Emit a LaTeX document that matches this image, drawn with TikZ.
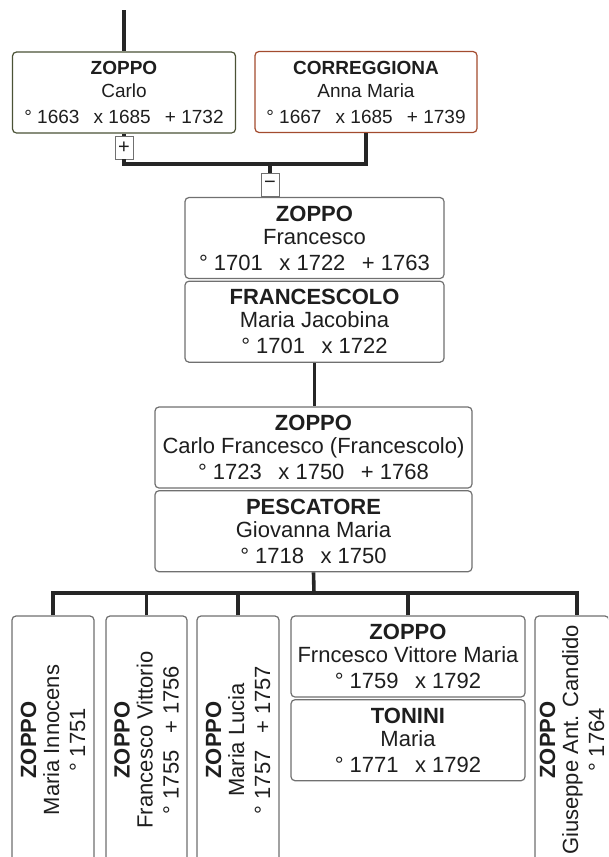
\documentclass[tikz,border=0pt]{standalone}
\usepackage{fontspec}
\setmainfont{Liberation Sans}
\usepackage{xcolor}
\usetikzlibrary{
    positioning,
    calc
}
\definecolor{linkgray}{HTML}{262626}
\definecolor{boxgray}{HTML}{707070}
\definecolor{husband}{HTML}{4A5236}
\definecolor{wife}{HTML}{A34B2E}
\definecolor{inkgray}{HTML}{1E1E1E}
\tikzset{
    person/.style={
        rectangle,
        rounded corners=4pt,
        draw=boxgray,
        line width=1.2pt,
        fill=white,
        align=center,
        inner sep=0pt,
        text=inkgray,
        font=\fontsize{22}{23}\selectfont
    },
    toppair/.style={
        person,
        minimum width=223pt,
        minimum height=81pt,
        font=\fontsize{19}{23}\selectfont
    },
    couple/.style={
        person,
        minimum height=81pt
    },
    child/.style={
        person,
        rotate=90,
        minimum width=248pt,
        minimum height=82pt
    },
    toggle/.style={
        rectangle,
        draw=boxgray,
        line width=0.9pt,
        fill=white,
        minimum width=18pt,
        minimum height=23pt,
        inner sep=0pt,
        text=inkgray,
        font=\fontsize{20}{20}\selectfont
    },
    link/.style={
        draw=linkgray,
        line width=3.6pt
    }
}

\begin{document}
\begin{tikzpicture}[x=1pt, y=-1pt]
\useasboundingbox (0,0) rectangle (608,857);
\clip (0,0) rectangle (608,857);

% parents
\node[toppair, draw=husband] (carlo) at (124,92.5) {\textbf{ZOPPO}\\Carlo\\[3pt]°~1663\hspace{0.75em}x 1685\hspace{0.75em}+~1732};
\node[toppair, draw=wife, minimum width=222pt] (anna) at (366,92) {\textbf{CORREGGIONA}\\Anna Maria\\[3pt]°~1667\hspace{0.75em}x 1685\hspace{0.75em}+~1739};
\node[toggle] (plus) at (124,147.5) {+};
\node[toggle] (minus) at (270,185) {−};

% second and third generation
\node[couple, minimum width=259pt] (francesco) at (314.5,238) {\textbf{ZOPPO}\\Francesco\\[3pt]°~1701\hspace{0.75em}x 1722\hspace{0.75em}+~1763};
\node[couple, minimum width=259pt, below=1.5pt of francesco] (jacobina) {\textbf{FRANCESCOLO}\\Maria Jacobina\\[3pt]°~1701\hspace{0.75em}x 1722};
\node[couple, minimum width=317pt] (carlofr) at (313.5,447.5) {\textbf{ZOPPO}\\Carlo Francesco (Francescolo)\\[3pt]°~1723\hspace{0.75em}x 1750\hspace{0.75em}+~1768};
\node[couple, minimum width=317pt, below=1.5pt of carlofr] (giovanna) {\textbf{PESCATORE}\\Giovanna Maria\\[3pt]°~1718\hspace{0.75em}x 1750};

% children
\node[child] (c1) at (53,740) {\textbf{ZOPPO}\\Maria Innocens\\[3pt]°~1751};
\node[child, minimum height=81pt] (c2) at (146.5,740) {\textbf{ZOPPO}\\Francesco Vittorio\\[3pt]°~1755\hspace{0.75em}+~1756};
\node[child] (c3) at (238,740) {\textbf{ZOPPO}\\Maria Lucia\\[3pt]°~1757\hspace{0.75em}+~1757};
\node[couple, minimum width=234pt] (c4) at (408,656.5) {\textbf{ZOPPO}\\Frncesco Vittore Maria\\[3pt]°~1759\hspace{0.75em}x 1792};
\node[couple, minimum width=234pt, below=1.5pt of c4] (tonini) {\textbf{TONINI}\\Maria\\[3pt]°~1771\hspace{0.75em}x 1792};
\node[child, minimum height=74pt] (c5) at (572,740) {\textbf{ZOPPO}\\Giuseppe Ant. Candido\\[3pt]°~1764};

\coordinate (root) at (124,10);
\coordinate (join) at (270,164);
\coordinate (kids) at (314,593);
\coordinate (c5top) at ($(c5.east)+(5,0)$);

\draw[link] (root) -- (carlo);
\draw[link] (carlo) -- (plus);
\draw[link] (plus.south) |- (join) -| (anna.south);
\draw[link] (join) -- (minus);
\draw[link] (jacobina.south) -- (jacobina.south |- carlofr.north);
\draw[link] (giovanna.south) -- (kids);
\draw[link] (c1.east) -- (c1.east |- kids) -- (c5top |- kids) -- (c5top);
\foreach \kid in {c2,c3}
    \draw[link] (\kid.east) -- (\kid.east |- kids);
\draw[link] (c4.north) -- (c4.north |- kids);

\end{tikzpicture}
\end{document}
